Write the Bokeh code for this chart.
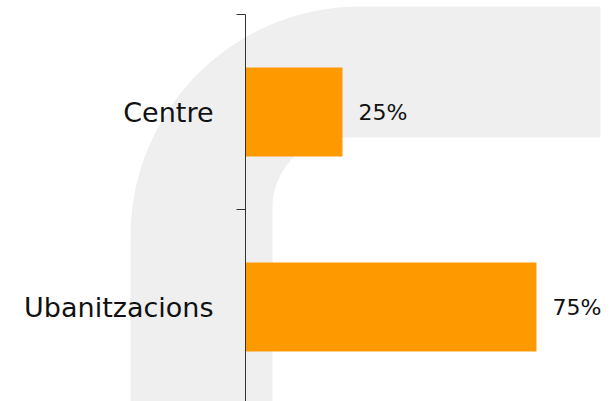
import numpy as np
from bokeh.plotting import figure
from bokeh.models import Range1d, FixedTicker
from bokeh.core.properties import value
from bokeh.embed import file_html
from bokeh.resources import INLINE

# ---- data ----
categories = ["Centre", "Ubanitzacions"]
positions = [1.5, 0.5]
percentages = [25, 75]
labels = [f"{v}%" for v in percentages]

FONT = "DejaVu Sans"
W, H = 610, 401
AX_PX, TOP_PX = 245, 14      # pixel position of x=0 and of the top category boundary
PX_X, PX_Y = 3.88, 195.0     # pixels per data unit
x0 = -AX_PX / PX_X
x1 = (W - AX_PX) / PX_X
y1 = 2 + TOP_PX / PX_Y
y0 = 2 - (H - TOP_PX) / PX_Y

def gx(px):
    return x0 + np.asarray(px) / PX_X

def gy(py):
    return y1 - np.asarray(py) / PX_Y

p = figure(width=W, height=H, x_range=Range1d(x0, x1), y_range=Range1d(y0, y1),
           x_axis_location=None, output_backend="svg", toolbar_location=None,
           min_border=0)
p.grid.visible = False
p.outline_line_color = None

# background watermark shape (decorative, pixel geometry)
R, r = 230, 70
oc = (360, 236)
ic = (342, 207)
t1 = np.linspace(np.pi, 1.5 * np.pi, 50)
t2 = np.linspace(1.5 * np.pi, np.pi, 25)
px = [130] + list(oc[0] + R * np.cos(t1)) + [600, 600] + list(ic[0] + r * np.cos(t2)) + [272]
py = [410] + list(oc[1] + R * np.sin(t1)) + [6, 137] + list(ic[1] + r * np.sin(t2)) + [410]
p.patch(gx(px), gy(py), fill_color="#efefef", line_color=None, level="underlay")

p.hbar(y=positions, left=0, right=percentages, height=0.456,
       fill_color="#ff9900", line_color=None)
p.text(x=percentages, y=positions, text=labels, x_offset=16,
       text_font=value(FONT), text_font_size="22px", text_color="#111111",
       text_baseline="middle", text_align="left")

ax = p.yaxis[0]
ax.fixed_location = 0
ax.bounds = (0, 2)
ax.ticker = FixedTicker(ticks=positions, minor_ticks=[0, 1, 2])
ax.major_label_overrides = {pos: cat for pos, cat in zip(positions, categories)}
ax.major_tick_out = 0
ax.major_tick_in = 0
ax.minor_tick_out = 9
ax.minor_tick_in = 0
ax.minor_tick_line_color = "#333333"
ax.axis_line_color = "#333333"
ax.major_label_standoff = 23
ax.major_label_text_font = FONT
ax.major_label_text_font_size = "27px"
ax.major_label_text_color = "#111111"

open("out.html", "w").write(file_html(p, INLINE))
